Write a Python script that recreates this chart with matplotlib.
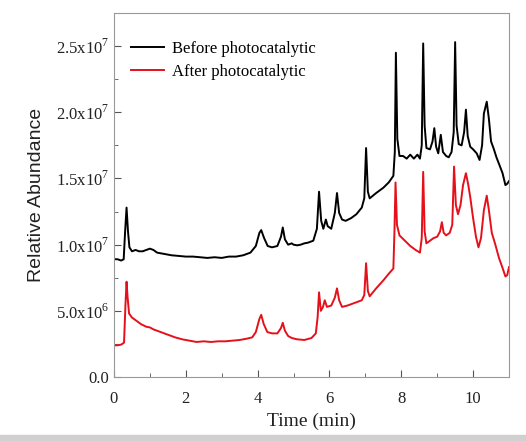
import matplotlib
matplotlib.use('Agg')
import matplotlib.pyplot as plt
from matplotlib.ticker import MultipleLocator, FuncFormatter
from matplotlib.patches import Rectangle

plt.rcParams['font.family'] = 'Liberation Serif'
plt.rcParams['mathtext.fontset'] = 'custom'
plt.rcParams['mathtext.rm'] = 'Liberation Serif'

# retention time (min) and abundance (x1e6), before photocatalytic treatment
t_before = [0.00, 0.10, 0.20, 0.27, 0.31, 0.35, 0.39, 0.43, 0.50, 0.60, 0.70, 0.80, 0.90, 1.00,
            1.10, 1.20, 1.40, 1.60, 1.80, 2.00, 2.20, 2.40, 2.60, 2.80, 3.00, 3.20, 3.40, 3.60,
            3.80, 3.95, 4.05, 4.10, 4.18, 4.28, 4.40, 4.55, 4.65, 4.70, 4.76, 4.85, 4.95, 5.00,
            5.10, 5.20, 5.30, 5.40, 5.55, 5.65, 5.71, 5.77, 5.83, 5.90, 5.95, 6.05, 6.15, 6.21,
            6.27, 6.35, 6.45, 6.60, 6.75, 6.90, 6.97, 7.02, 7.07, 7.12, 7.30, 7.50, 7.65, 7.78,
            7.82, 7.85, 7.89, 7.95, 8.05, 8.15, 8.25, 8.35, 8.45, 8.52, 8.57, 8.61, 8.65, 8.70,
            8.80, 8.87, 8.92, 8.97, 9.03, 9.10, 9.16, 9.25, 9.32, 9.40, 9.46, 9.50, 9.54, 9.60,
            9.68, 9.75, 9.80, 9.85, 9.92, 10.00, 10.10, 10.18, 10.25, 10.30, 10.38, 10.44, 10.50,
            10.58, 10.65, 10.75, 10.82, 10.90, 10.95, 11.00]
a_before = [8.9, 8.9, 8.8, 8.9, 11.0, 12.8, 11.0, 9.8, 9.5, 9.6, 9.5, 9.5, 9.6, 9.7,
            9.6, 9.4, 9.3, 9.2, 9.15, 9.1, 9.1, 9.05, 9.0, 9.05, 9.0, 9.1, 9.1, 9.2,
            9.4, 9.9, 10.9, 11.1, 10.5, 9.9, 9.8, 9.9, 10.6, 11.3, 10.4, 10.0, 10.1, 10.0,
            9.95, 10.0, 10.1, 10.15, 10.3, 11.2, 14.0, 11.8, 11.2, 11.9, 11.4, 11.2, 12.4, 13.9,
            12.4, 11.9, 11.8, 12.0, 12.3, 12.8, 13.5, 17.3, 14.0, 13.5, 13.9, 14.3, 14.7, 15.2,
            17.0, 24.5, 18.0, 16.7, 16.7, 16.5, 16.8, 16.5, 16.8, 16.5, 17.5, 25.2, 19.0, 17.3,
            17.2, 17.8, 18.8, 17.4, 16.9, 18.3, 17.0, 16.7, 16.6, 17.0, 18.5, 25.3, 19.0, 17.6,
            17.5, 18.5, 20.2, 18.2, 17.4, 17.2, 16.9, 16.4, 17.5, 19.9, 20.8, 19.5, 17.8,
            17.2, 16.6, 15.9, 15.4, 14.5, 14.6, 14.8]

# after photocatalytic treatment
t_after = [0.00, 0.10, 0.20, 0.28, 0.32, 0.35, 0.38, 0.42, 0.50, 0.60, 0.75, 0.90, 1.00, 1.10,
           1.30, 1.50, 1.70, 1.90, 2.10, 2.30, 2.50, 2.70, 2.90, 3.10, 3.30, 3.50, 3.70, 3.85,
           3.95, 4.05, 4.10, 4.17, 4.27, 4.40, 4.55, 4.65, 4.70, 4.76, 4.85, 4.95, 5.10, 5.30,
           5.50, 5.62, 5.67, 5.71, 5.76, 5.82, 5.87, 5.93, 6.05, 6.15, 6.21, 6.27, 6.35, 6.50,
           6.70, 6.90, 6.97, 7.02, 7.07, 7.12, 7.30, 7.50, 7.65, 7.78, 7.81, 7.84, 7.88, 7.95,
           8.10, 8.25, 8.40, 8.52, 8.57, 8.61, 8.65, 8.70, 8.80, 8.90, 9.00, 9.08, 9.13, 9.18,
           9.25, 9.35, 9.42, 9.47, 9.52, 9.58, 9.65, 9.72, 9.80, 9.86, 9.92, 10.00, 10.08, 10.15,
           10.22, 10.30, 10.38, 10.44, 10.52, 10.62, 10.72, 10.80, 10.90, 10.95, 11.00]
a_after = [2.4, 2.4, 2.45, 2.6, 5.5, 7.2, 6.0, 4.8, 4.5, 4.3, 4.0, 3.8, 3.75, 3.6,
           3.4, 3.2, 3.0, 2.85, 2.75, 2.65, 2.7, 2.65, 2.7, 2.7, 2.75, 2.8, 2.9, 3.0,
           3.4, 4.4, 4.7, 4.0, 3.4, 3.3, 3.3, 3.7, 4.1, 3.5, 3.1, 2.95, 2.85, 2.8,
           2.95, 3.3, 4.5, 6.4, 5.0, 5.3, 5.8, 5.3, 5.4, 6.0, 6.7, 5.8, 5.3, 5.4,
           5.6, 5.8, 6.2, 8.6, 6.5, 6.1, 6.7, 7.3, 7.8, 8.2, 11.0, 14.7, 11.5, 10.7,
           10.3, 9.9, 9.6, 9.4, 10.5, 15.5, 11.0, 10.1, 10.3, 10.5, 10.6, 11.0, 11.7, 10.9,
           10.7, 10.9, 11.5, 15.9, 13.0, 12.3, 13.0, 14.5, 15.4, 14.6, 13.6, 12.0, 10.6, 9.8,
           10.5, 12.6, 13.7, 12.6, 10.9, 10.0, 9.0, 8.4, 7.6, 7.7, 8.3]

fig = plt.figure(figsize=(5.26, 4.41), dpi=100)
ax = fig.add_axes([0.2167, 0.145, 0.751, 0.8255])

ax.plot(t_before, [v * 1e6 for v in a_before], color='black', lw=1.4, label='Before photocatalytic')
ax.plot(t_after, [v * 1e6 for v in a_after], color='#e5101a', lw=1.4, label='After photocatalytic')

ax.set_xlim(0, 11)
ax.set_ylim(0, 2.75e7)
ax.xaxis.set_major_locator(MultipleLocator(2))
ax.xaxis.set_minor_locator(MultipleLocator(1))
ax.yaxis.set_major_locator(MultipleLocator(5e6))
ax.yaxis.set_minor_locator(MultipleLocator(2.5e6))


def sci(v, pos):
    if v == 0:
        return '0.0'
    e = len(str(int(v))) - 1
    return r'$%.1f\mathrm{x}10^{%d}$' % (v / 10 ** e, e)


ax.yaxis.set_major_formatter(FuncFormatter(sci))
ax.tick_params(which='both', direction='in', colors='#555555', labelcolor='#222222',
               labelsize=12, top=False, right=False)
ax.tick_params(which='major', length=5)
ax.tick_params(which='minor', length=3)
ax.tick_params(axis='x', which='major', pad=10)
for s in ax.spines.values():
    s.set_color('#999999')

ax.set_xlabel('Time (min)', fontsize=14, color='#222222', labelpad=4)
ax.set_ylabel('Relative Abundance', fontsize=14, family='Liberation Sans', color='#222222', labelpad=8)

ax.legend(loc='upper left', frameon=False, fontsize=12, handlelength=2.0, handletextpad=0.5,
          bbox_to_anchor=(0.0, 0.97), labelspacing=0.45, borderaxespad=0.6)

# grey strip along the lower edge
fig.patches.append(Rectangle((0, 0), 1, 6 / 441, transform=fig.transFigure,
                             color='#d0d0d0', zorder=0))

fig.savefig('out.png', dpi=100)
